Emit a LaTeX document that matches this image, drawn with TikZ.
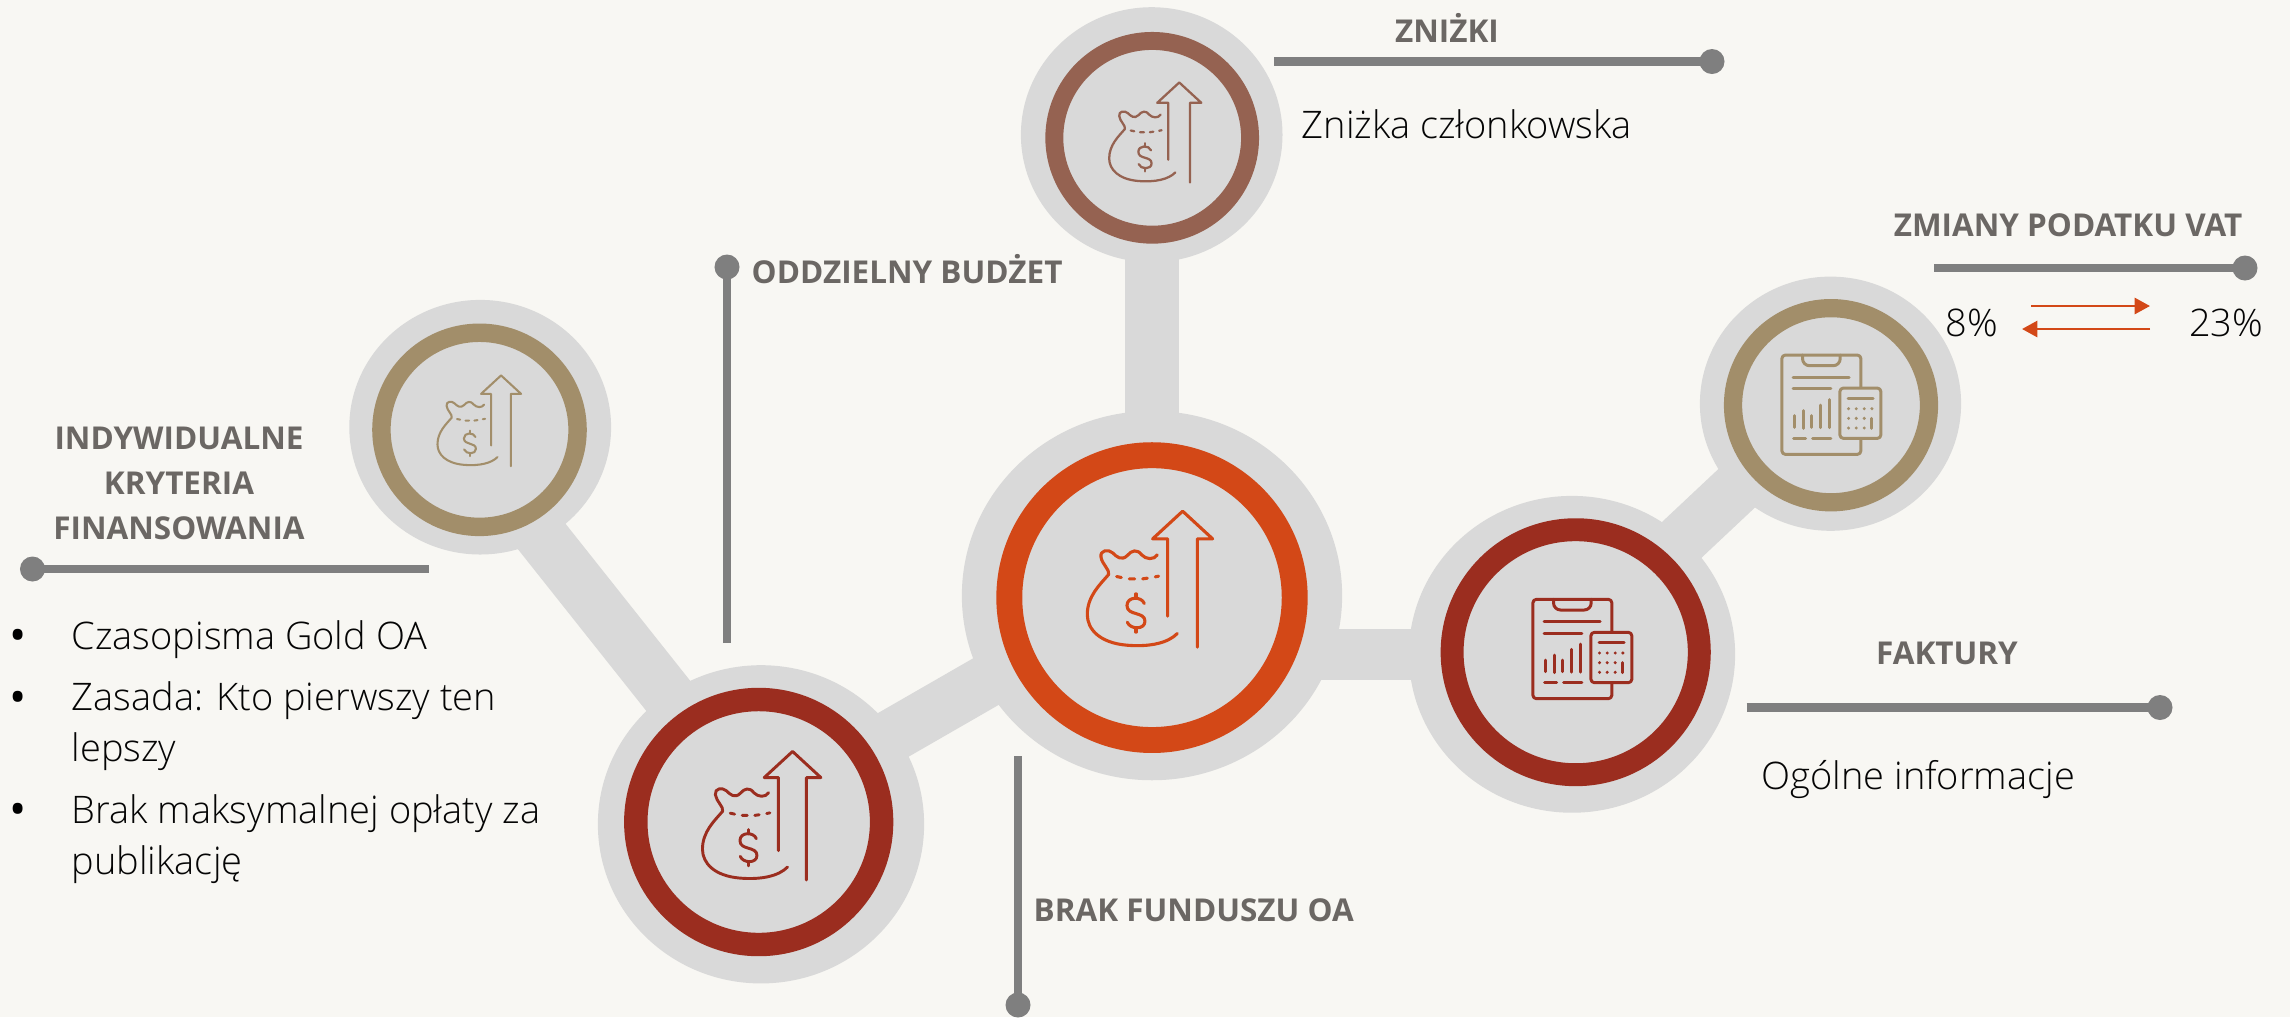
\documentclass[tikz,border=0pt]{standalone}
\usepackage{fontspec}
\setmainfont{Open Sans}
\newfontfamily\lightfont{Open Sans Light}
\usetikzlibrary{backgrounds,arrows.meta,shapes.geometric}
\definecolor{paper}{HTML}{F8F7F3}
\definecolor{hubgrey}{HTML}{D9D9D9}
\definecolor{orangeC}{HTML}{D34817}
\definecolor{redC}{HTML}{9B2D1F}
\definecolor{tanC}{HTML}{A28E6A}
\definecolor{brownC}{HTML}{956251}
\definecolor{leadC}{HTML}{7F7F7F}
\definecolor{headC}{HTML}{6B6764}
\definecolor{bodyC}{HTML}{050505}
\tikzset{
  hubouter/.style={ellipse,fill=hubgrey,inner sep=0pt},
  hubring/.style={ellipse,fill=hubgrey,inner sep=0pt},
  link/.style={draw=hubgrey,line width=15.1pt},
  leader/.style={draw=leadC,line width=2.36pt},
  leaddot/.style={circle,fill=leadC,inner sep=0pt,minimum size=0.25cm},
  headtxt/.style={font=\fontsize{8.95}{12.8}\selectfont\bfseries,text=headC,inner sep=0pt},
  bodytxt/.style={font=\lightfont\fontsize{10.8}{14.6}\selectfont,text=bodyC,inner sep=0pt,align=left},
  bullettxt/.style={font=\fontsize{13}{13}\selectfont,text=black,inner sep=0pt},
  vatarrow/.style={draw=orangeC,line width=0.76pt,-{Triangle[length=4.4pt,width=4.6pt]}},
}
% name, outer centre, outer rx, outer ry, ring centre, ring mid rx, ring mid ry, ring thickness, colour
\newcommand\hubn[9]{%
  \node[hubouter,minimum width=#3*0.02 cm,minimum height=#4*0.02 cm] (#1) at (#2) {};
  \node[hubring,draw=#9,line width=#8*0.2835pt,minimum width=#6*0.02 cm,minimum height=#7*0.02 cm] (#1r) at (#5) {};
}
% x, y, scale, colour
\newcommand\moneyicon[4]{%
\begin{scope}[shift={(#1,#2)},scale=#3/3,draw=#4,line width=3.1*#3*0.2835pt,line cap=round,line join=round]
\begin{scope}[shift={(-451,-300)}]
\draw (503,410) -- (503,178) -- (458,178) -- (548,95) -- (638,178) -- (592,178) -- (592,503);
\draw (472,226) .. controls (462,242) and (438,240) .. (425,226) .. controls (412,208) and (395,212) .. (382,228)
 .. controls (365,245) and (350,232) .. (338,220) .. controls (325,208) and (300,212) .. (303,232)
 .. controls (306,255) and (330,270) .. (326,285) .. controls (300,315) and (262,350) .. (262,405)
 .. controls (262,450) and (300,490) .. (380,497) .. controls (450,503) and (505,490) .. (532,462);
\draw (350,291) -- (364,294) (388,298) -- (404,298) (428,298) -- (442,296) (466,292) -- (476,290);
\draw (433,372) .. controls (425,350) and (381,350) .. (381,378) .. controls (381,410) and (435,395) .. (435,425)
 .. controls (435,452) and (390,450) .. (382,428);
\draw (408,343) -- (408,356) (408,445) -- (408,458);
\end{scope}
\end{scope}}
\newcommand\docicon[4]{%
\begin{scope}[shift={(#1,#2)},scale=#3/3,draw=#4,fill=#4,line width=3*#3*0.2835pt,line cap=round,line join=round]
\begin{scope}[shift={(-306,-267)}]
\draw[fill=none,rounded corners=1pt] (395,215) -- (395,118) -- (158,118) -- (158,416) -- (395,416) -- (395,370);
\draw[fill=none,rounded corners=2pt] (220,118) -- (220,150) -- (333,150) -- (333,118);
\draw (192,184) -- (360,184) (192,219) -- (305,219);
\draw (195,300) -- (195,335) (222,285) -- (222,338) (248,300) -- (248,335) (275,268) -- (275,336) (302,252) -- (302,336);
\draw (193,367) -- (229,367) (250,367) -- (305,367);
\draw[fill=none,rounded corners=1pt] (332,217) rectangle (455,368);
\draw (357,248) -- (432,248) (428,308) -- (428,338);
\foreach \yy in {279,308,337} \foreach \xx in {358,381,405} {\fill (\xx,\yy) circle (5);}
\fill (428,279) circle (5);
\end{scope}
\end{scope}}
\begin{document}
\begin{tikzpicture}[x=0.01cm,y=-0.01cm]
\useasboundingbox (0,0) rectangle (2290,1017);
\hubn{hubC}{1152,595.6}{190}{184.5}{1152,597.6}{142.6}{142.3}{26}{orangeC}
\hubn{hubT}{1151.7,134.7}{130.7}{127.4}{1152.2,137.8}{97.8}{96.8}{18}{brownC}
\hubn{hubL}{480.2,427.2}{130.8}{127.2}{479.5,429.8}{98}{97}{18.5}{tanC}
\hubn{hubB}{761,824.3}{163}{159}{758.7,822}{122.8}{122.4}{23.5}{redC}
\hubn{hubR}{1572,654.3}{163}{158.3}{1575.7,652.2}{123.5}{122.4}{23}{redC}
\hubn{hubV}{1830.5,403.7}{130.5}{127}{1831,405.2}{97.9}{97}{18.3}{tanC}
\coordinate (lkLa) at (458,431);
\coordinate (lkLb) at (770,824);
\coordinate (lkCa) at (761,811);
\coordinate (lkCb) at (1152,586);
\coordinate (lkVa) at (1573,642);
\coordinate (lkVb) at (1830,400.6);
\begin{scope}[on background layer]
\fill[paper] (0,0) rectangle (2290,1017);
\draw[link] (hubC.center) -- (hubC.center |- hubT.center);
\draw[link,line width=14.5pt] (hubR.center) -- (hubR.center -| hubC.center);
\draw[link] (lkCa) -- (lkCb);
\draw[link] (lkLa) -- (lkLb);
\draw[link] (lkVa) -- (lkVb);
\end{scope}
\moneyicon{1150.3}{579.5}{1}{orangeC}
\moneyicon{1155.5}{132.7}{0.735}{brownC}
\moneyicon{762}{816}{0.945}{redC}
\moneyicon{479.5}{421}{0.667}{tanC}
\docicon{1582.2}{649}{1}{redC}
\docicon{1831.2}{404.7}{1}{tanC}
% leaders
\coordinate (zS) at (1274,61.5); \node[leaddot] (zD) at (1712,61.5) {}; \draw[leader] (zS) -- (zD.center);
\coordinate (oS) at (727,643); \node[leaddot] (oD) at (727,267) {}; \draw[leader] (oS) -- (oD.center);
\coordinate (iS) at (428.7,569); \node[leaddot] (iD) at (32.5,569) {}; \draw[leader] (iS) -- (iD.center);
\coordinate (bS) at (1018,756); \node[leaddot] (bD) at (1018,1005) {}; \draw[leader] (bS) -- (bD.center);
\coordinate (vS) at (1934,268); \node[leaddot] (vD) at (2245,268) {}; \draw[leader] (vS) -- (vD.center);
\coordinate (fS) at (1746.7,707.5); \node[leaddot] (fD) at (2160,707.5) {}; \draw[leader] (fS) -- (fD.center);
% texts
\node[headtxt,text height=6.4pt,text depth=0pt] (tZ) at (1447,31) {ZNIŻKI};
\node[bodytxt,anchor=west] (tZb) at (1301,124) {Zniżka członkowska};
\node[headtxt,anchor=west,text height=6.4pt,text depth=0pt] (tO) at (751,272) {ODDZIELNY BUDŻET};
\node[headtxt,text height=6.4pt,text depth=0pt] (tV) at (2068,225) {ZMIANY PODATKU VAT};
\node[bodytxt] (t8) at (1971.7,323) {8\%};
\node[bodytxt] (t23) at (2226,323) {23\%};
\coordinate (a1) at (2031,306); \coordinate (a2) at (2150,306);
\coordinate (a3) at (2150,329); \coordinate (a4) at (2022,329);
\draw[vatarrow] (a1) -- (a2);
\draw[vatarrow] (a3) -- (a4);
\node[headtxt,align=center] (tI) at (179,483) {INDYWIDUALNE\\KRYTERIA\\FINANSOWANIA};
\node[bullettxt] (b1) at (18,640) {•};
\node[bodytxt,anchor=west] (l1) at (71,640) {Czasopisma Gold OA};
\node[bullettxt] (b2) at (18,702) {•};
\node[bodytxt,anchor=west] (l2) at (71,726) {Zasada: Kto pierwszy ten\\lepszy};
\node[bullettxt] (b3) at (18,814) {•};
\node[bodytxt,anchor=west] (l3) at (71,839) {Brak maksymalnej opłaty za\\publikację};
\node[headtxt,text height=6.4pt,text depth=0pt] (tF) at (1947,653) {FAKTURY};
\node[bodytxt,anchor=west] (tFb) at (1761,779) {Ogólne informacje};
\node[headtxt,anchor=west,text height=6.4pt,text depth=0pt] (tB) at (1033,910) {BRAK FUNDUSZU OA};
\end{tikzpicture}
\end{document}
